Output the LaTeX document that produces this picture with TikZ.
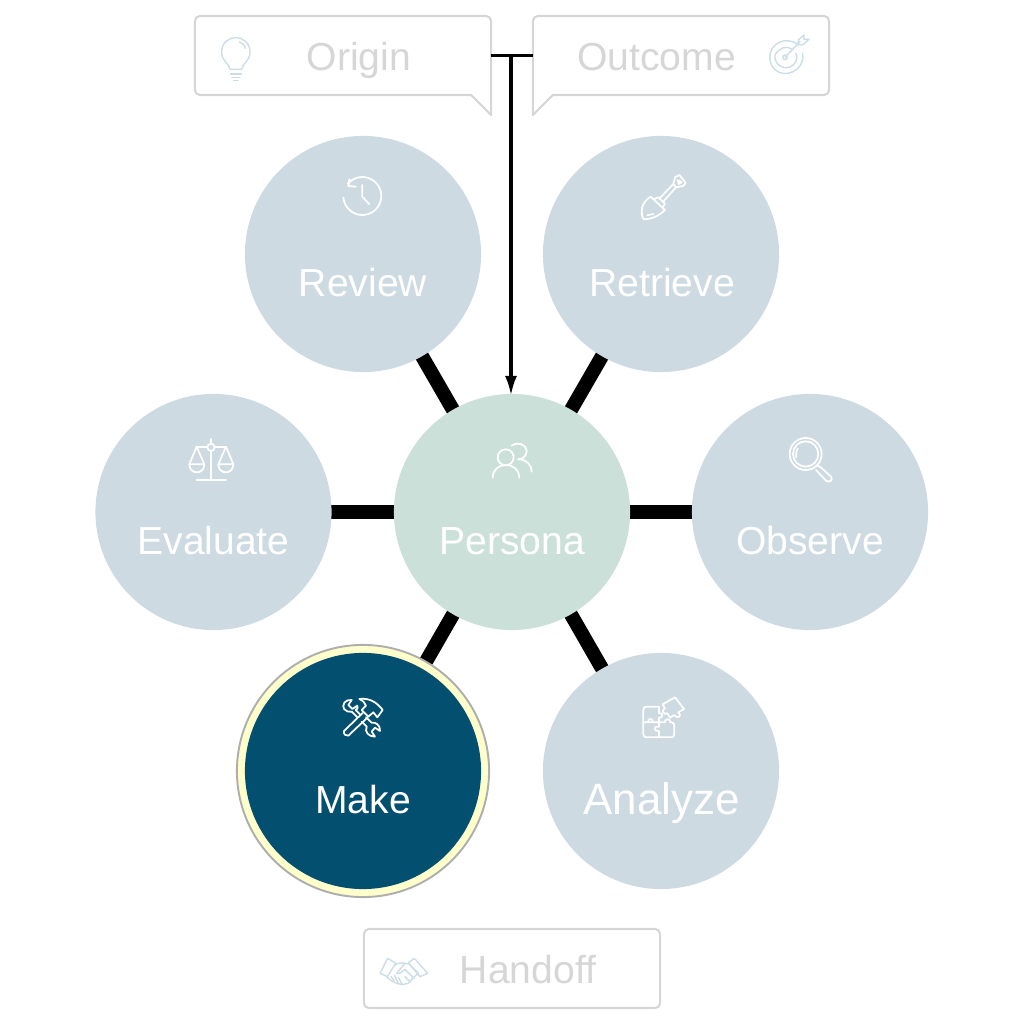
\documentclass[tikz,border=0pt]{standalone}
\usepackage{fontspec}
\setmainfont{Liberation Sans}
\usetikzlibrary{arrows.meta,backgrounds,calc}
\definecolor{stageblue}{HTML}{CDDAE1}
\definecolor{stagegreen}{HTML}{CCE0DA}
\definecolor{makeblue}{HTML}{034F70}
\definecolor{ringyellow}{HTML}{FFFFCC}
\definecolor{ringgray}{HTML}{AEAEAE}
\definecolor{boxgray}{HTML}{D6D6D6}
\definecolor{iconblue}{HTML}{CBDDE6}
\tikzset{
  stage/.style={circle,minimum size=2.36cm,inner sep=0pt,outer sep=0pt,fill=stageblue},
  stagetext/.style={anchor=base,inner sep=0pt,text=white,font=\fontsize{11.12pt}{13pt}\selectfont},
  boxnode/.style={minimum width=2.96cm,minimum height=0.79cm,inner sep=0pt,outer sep=0pt},
  boxline/.style={draw=boxgray,line width=0.6pt,line join=round},
  boxtext/.style={anchor=base,inner sep=0pt,text=boxgray,font=\fontsize{11.12pt}{13pt}\selectfont},
  spoke/.style={line width=0.14cm},
  icon/.style={draw=white,line width=0.5pt,line cap=round,line join=round},
  paleicon/.style={draw=iconblue,line width=0.4pt,line cap=round,line join=round},
  zoomed/.style 2 args={shift={(#1,{1024-#2})},x=0.01cm/3,y=-0.01cm/3}
}
\begin{document}
\begin{tikzpicture}[x=0.01cm,y=0.01cm]
\useasboundingbox (0,0) rectangle (1024,1024);
% circles
\node[stage,fill=stagegreen] (persona) at (512,512) {};
\node[stage] (review) at (363,770) {};
\node[stage] (retrieve) at (661,770) {};
\node[stage] (evaluate) at (213.5,512) {};
\node[stage] (observe) at (810,512) {};
\node[stage] (analyze) at (661,253) {};
\node[circle,minimum size=2.52cm,inner sep=0pt,outer sep=0pt,fill=ringyellow,draw=ringgray,line width=0.55pt] (makering) at (363,253) {};
\node[stage,fill=makeblue] (make) at (363,253) {};
\begin{scope}[on background layer]
\draw[spoke] (persona.center) -- (review.center);
\draw[spoke] (persona.center) -- (retrieve.center);
\draw[spoke] (persona.center) -- (evaluate.center);
\draw[spoke] (persona.center) -- (observe.center);
\draw[spoke] (persona.center) -- (analyze.center);
\draw[spoke] (persona.center) -- (makering.center);
\end{scope}
% labels
\node[stagetext] (personatext) at (512,469) {Persona};
\node[stagetext] (reviewtext) at (363,727) {Review};
\node[stagetext] (retrievetext) at (662,727) {Retrieve};
\node[stagetext] (evaluatetext) at (213.5,469) {Evaluate};
\node[stagetext] (observetext) at (810,469) {Observe};
\node[stagetext] (maketext) at (363,210) {Make};
\node[stagetext,font=\fontsize{12.5pt}{14pt}\selectfont] (analyzetext) at (661.5,209) {Analyze};
% callouts
\node[boxnode] (origin) at (343,968.5) {};
\node[boxnode] (outcome) at (681,968.5) {};
\node[boxnode] (handoff) at (512,55.5) {};
\draw[boxline,rounded corners=0.05cm] ([xshift=-0.2cm]origin.south east) -- (origin.south west) -- (origin.north west) -- (origin.north east) [sharp corners] -- ([yshift=-0.2cm]origin.south east) -- cycle;
\draw[boxline,rounded corners=0.05cm] ([xshift=0.2cm]outcome.south west) -- (outcome.south east) -- (outcome.north east) -- (outcome.north west) [sharp corners] -- ([yshift=-0.2cm]outcome.south west) -- cycle;
\draw[boxline,rounded corners=0.05cm] (handoff.south west) rectangle (handoff.north east);
\node[boxtext] (origintext) at (359,953) {Origin};
\node[boxtext] (outcometext) at (656.5,953) {Outcome};
\node[boxtext] (handofftext) at (528,41) {Handoff};
% feed line
\coordinate (feedtop) at ([xshift=-0.01cm]$(origin.east)!0.5!(outcome.west)$);
\draw[line width=0.85pt] (origin.east) -- (outcome.west);
\draw[line width=1pt,-{Latex[length=0.2cm,width=0.12cm]},shorten >=-0.02cm] (feedtop) -- (feedtop |- persona.north);
% lightbulb
\begin{scope}[zoomed={180}{0}]
\draw[paleicon] (150,208) .. controls (148,190) and (125,185) .. (125,155) .. controls (125,130) and (145,113) .. (167,113) .. controls (190,113) and (210,130) .. (210,155) .. controls (210,185) and (187,190) .. (185,208) -- cycle;
\draw[paleicon] (178,126) .. controls (187,128) and (194,135) .. (196,145);
\draw[paleicon] (152,222) -- (184,222);
\draw[paleicon] (155,232) -- (180,232);
\draw[paleicon] (161,242) -- (174,242);
\end{scope}
% target
\begin{scope}[zoomed={500}{0}]
\draw[paleicon] (895,135) .. controls (875,118) and (845,118) .. (825,135) .. controls (800,160) and (805,205) .. (840,218) .. controls (875,230) and (915,200) .. (908,160);
\draw[paleicon] (875,147) .. controls (860,135) and (835,145) .. (825,165) .. controls (822,190) and (845,208) .. (868,202) .. controls (888,195) and (895,175) .. (888,160);
\draw[paleicon] (855,172) circle (7);
\draw[paleicon] (855,172) -- (900,125);
\draw[paleicon] (895,120) -- (912,105) -- (912,118) -- (927,118) -- (908,135) -- (895,132) -- cycle;
\end{scope}
% clock
\begin{scope}[zoomed={320}{160}]
\draw[icon] (127,108) ++(-140:57) arc[start angle=-140,end angle=175,radius=57];
\draw[icon] (88,58) -- (85,78) -- (107,80);
\draw[icon] (127,75) -- (127,110) -- (148,133);
\end{scope}
% shovel
\begin{scope}[zoomed={620}{160}]
\draw[icon] (92,110) .. controls (80,118) and (68,130) .. (66,145) .. controls (64,160) and (66,175) .. (72,178) .. controls (90,178) and (115,170) .. (135,150) -- cycle;
\draw[icon] (100,118) -- (115,112) -- (135,132) -- (127,143);
\draw[icon] (118,116) -- (160,72) -- (168,82) -- (128,127);
\draw[icon] (160,72) -- (165,52) -- (178,45) -- (197,68) -- (190,78) -- (168,82);
\draw[icon] (172,60) -- (185,66) -- (177,72) -- cycle;
\draw[icon] (82,166) -- (100,162);
\end{scope}
% scales
\begin{scope}[zoomed={170}{425}]
\draw[icon] (123,42) -- (123,56);
\draw[icon] (123,67) circle (11);
\draw[icon] (123,78) -- (123,165);
\draw[icon] (80,165) -- (168,165);
\draw[icon] (80,65) -- (112,65);
\draw[icon] (134,65) -- (168,65);
\draw[icon] (58,118) -- (80,65) -- (103,118) -- cycle;
\draw[icon] (58,118) .. controls (58,150) and (103,150) .. (103,118);
\draw[icon] (145,118) -- (168,65) -- (190,118) -- cycle;
\draw[icon] (145,118) .. controls (145,150) and (190,150) .. (190,118);
\end{scope}
% people
\begin{scope}[zoomed={470}{425}]
\draw[icon] (107,97) circle (24);
\draw[icon] (68,158) .. controls (68,135) and (85,120) .. (108,120) .. controls (130,120) and (148,135) .. (148,158);
\draw[icon] (125,62) .. controls (140,48) and (170,58) .. (170,78) .. controls (170,92) and (160,102) .. (145,103);
\draw[icon] (145,103) .. controls (170,103) and (185,120) .. (185,140);
\end{scope}
% magnifier
\begin{scope}[zoomed={770}{425}]
\draw[icon] (107,87) circle (48);
\draw[icon] (107,87) circle (38);
\draw[icon] (83,70) .. controls (78,78) and (77,88) .. (79,97);
\draw[icon] (150,125) -- (183,155) .. controls (190,165) and (178,175) .. (168,167) -- (138,135);
\draw[icon] (140,122) -- (150,125);
\end{scope}
% tools
\begin{scope}[zoomed={320}{685}]
\draw[icon] (118,42) .. controls (145,38) and (170,50) .. (188,75) -- (172,97) -- (160,82) -- (145,95) -- (125,75) -- (138,62) .. controls (135,52) and (128,47) .. cycle;
\draw[icon] (128,84) -- (72,138) .. controls (70,148) and (78,154) .. (85,152) -- (143,97);
\draw[icon] (95,45) .. controls (75,42) and (65,60) .. (72,72) .. controls (78,80) and (88,82) .. (95,80) -- (112,97);
\draw[icon] (95,45) -- (85,60) -- (97,72) -- (112,62) .. controls (115,70) and (112,72) .. (107,75) -- (120,88);
\draw[icon] (125,110) -- (140,125) .. controls (133,140) and (145,155) .. (165,155) -- (155,140) -- (165,128) -- (180,138) .. controls (182,120) and (165,110) .. (155,113) -- (138,97);
\end{scope}
% puzzle
\begin{scope}[zoomed={620}{685}]
\draw[icon,rounded corners=0.03cm] (118,65) -- (70,65) -- (70,157) -- (163,157) -- (163,112) -- (150,112);
\draw[icon] (150,112) .. controls (155,100) and (130,100) .. (135,112) -- (70,112);
\draw[icon] (117,65) -- (117,85) .. controls (130,80) and (130,102) .. (117,98) -- (117,125) .. controls (100,120) and (100,142) .. (117,138) -- (117,157);
\draw[icon] (85,112) .. controls (80,98) and (102,98) .. (98,112);
\draw[icon] (128,58) -- (165,37) -- (192,72) -- (175,82) .. controls (188,92) and (172,105) .. (163,90) -- (150,98) -- (142,85) .. controls (130,92) and (122,75) .. (135,70) -- cycle;
\end{scope}
% handshake
\begin{scope}[zoomed={355}{920}]
\draw[paleicon] (75,160) -- (98,115) -- (122,130) -- (97,170) -- cycle;
\draw[paleicon] (178,115) -- (218,160) -- (195,170) -- (160,128) -- cycle;
\draw[paleicon] (120,135) .. controls (130,125) and (150,130) .. (162,132);
\draw[paleicon] (162,132) -- (190,160) .. controls (178,170) and (170,178) .. (160,190) .. controls (140,198) and (115,190) .. (97,172);
\draw[paleicon] (150,130) -- (125,160) .. controls (135,165) and (145,150) .. (150,148) -- (178,176);
\draw[paleicon] (108,170) -- (118,182);
\draw[paleicon] (118,165) -- (130,190);
\draw[paleicon] (130,172) -- (142,194);
\draw[paleicon] (150,170) -- (165,186);
\end{scope}
\end{tikzpicture}
\end{document}
